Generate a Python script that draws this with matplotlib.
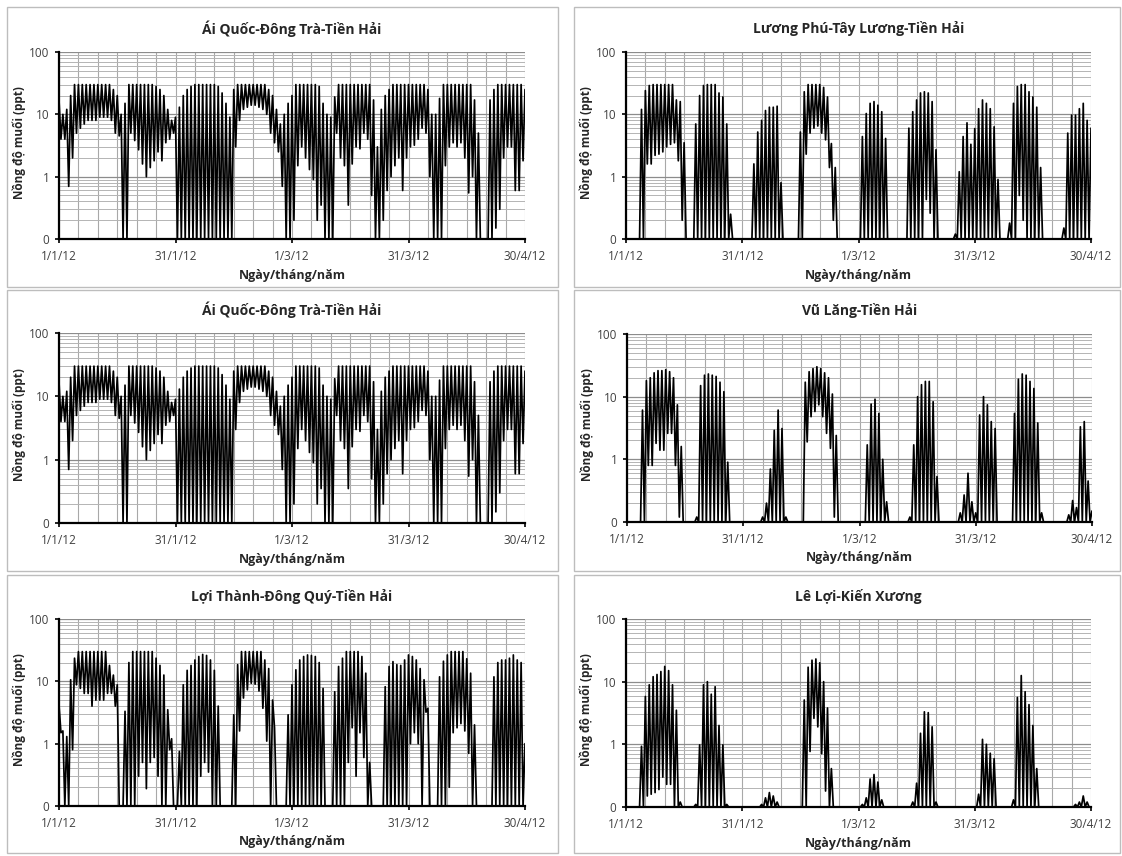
import matplotlib

matplotlib.use("Agg")
import matplotlib.pyplot as plt
import numpy as np
from matplotlib.patches import Rectangle
from matplotlib.ticker import FixedLocator, MultipleLocator, NullFormatter

plt.rcParams["font.family"] = ["Open Sans", "Liberation Sans", "DejaVu Sans"]

W, H = 1122, 856

# daily tide peaks / troughs of salinity (ppt), day 0 = 1/1/12 ... day 120 = 30/4/12
AQ_HIGH = [
    17, 10, 12, 20, 30, 30, 30, 30, 30, 30,
    30, 30, 30, 30, 25, 20, 10, 15, 30, 30,
    30, 30, 30, 30, 30, 28, 25, 20, 12, 8,
    9, 13, 20, 25, 28, 30, 30, 30, 30, 30,
    30, 28, 22, 15, 9, 25, 30, 30, 30, 30,
    30, 30, 30, 30, 25, 20, 12, 7, 10, 15,
    20, 30, 30, 30, 30, 30, 30, 28, 15, 10,
    9, 19, 30, 30, 30, 30, 30, 30, 30, 30,
    30, 17, 3, 12, 20, 25, 30, 30, 30, 30,
    30, 30, 30, 30, 30, 25, 10, 10, 18, 30,
    30, 30, 30, 30, 30, 30, 30, 17, 5, 0.1,
    0.1, 17, 25, 30, 30, 30, 30, 30, 30, 30,
    25,
]
AQ_LOW = [
    4, 4, 0.7, 2, 5, 6, 7, 8, 8, 8,
    9, 9, 9, 8, 5, 4.5, 0.1, 0.1, 5, 3.8,
    2.7, 1.6, 1.0, 1.4, 1.8, 2.5, 1.8, 3.5, 4, 5,
    0.1, 0.1, 0.1, 0.1, 0.1, 0.1, 0.1, 0.1, 0.1, 0.1,
    0.1, 0.1, 0.1, 0.1, 0.1, 3, 8, 12, 13, 14,
    14, 13, 12, 10, 5, 3.5, 2.5, 0.7, 0.1, 0.1,
    0.2, 1.5, 3, 2, 1.3, 0.9, 0.2, 0.35, 0.1, 0.1,
    0.1, 5, 2, 1.5, 0.35, 1.6, 3, 2.8, 5, 4,
    0.5, 0.1, 0.1, 0.2, 0.6, 1, 1.5, 2, 0.6, 2,
    3, 3.2, 4, 6, 5, 1, 0.1, 0.1, 0.1, 1.5,
    3, 3.5, 3, 3.5, 2, 0.55, 1, 0.1, 0.1, 0.1,
    0.1, 0.1, 0.15, 0.3, 2, 3, 3, 0.6, 0.6, 1.8,
    2,
]

LP_HIGH = [
    0.1, 0.1, 0.1, 0.1, 12, 24, 29, 30, 30, 30,
    30, 30, 30, 17, 16, 3.5, 0.1, 0.1, 7, 20,
    29, 30, 30, 30, 22, 19, 7, 0.25, 0.1, 0.1,
    0.1, 0.1, 0.1, 1.6, 5.2, 8, 11.5, 13, 13, 13.5,
    0.8, 0.1, 0.1, 0.1, 0.1, 5.2, 23, 30, 30, 30,
    30, 27, 19, 3.4, 1.4, 0.1, 0.1, 0.1, 0.1, 0.1,
    0.1, 4.4, 10.3, 15, 16, 14, 11, 4.1, 0.1, 0.1,
    0.1, 0.1, 0.1, 6, 11, 17, 22, 23, 22, 16,
    2.7, 0.1, 0.1, 0.1, 0.1, 0.12, 1.2, 4.4, 7.3, 3.3,
    5.9, 12.3, 17, 15, 12.3, 6.3, 0.9, 0.1, 0.1, 0.18,
    15, 28, 30, 30, 23, 19, 13, 1.4, 0.1, 0.1,
    0.1, 0.1, 0.1, 0.15, 5, 9.7, 9.7, 12.3, 15, 8,
    6,
]
LP_LOW = [
    0.1, 0.1, 0.1, 0.1, 0.1, 1.6, 1.6, 2.2, 2.3, 2.5,
    3, 3.3, 3.5, 1.8, 0.2, 0.1, 0.1, 0.1, 0.1, 0.1,
    0.1, 0.1, 0.1, 0.1, 0.1, 0.1, 0.1, 0.1, 0.1, 0.1,
    0.1, 0.1, 0.1, 0.1, 0.1, 0.1, 0.1, 0.1, 0.1, 0.1,
    0.1, 0.1, 0.1, 0.1, 0.1, 0.1, 2.3, 5, 6, 6.5,
    5, 3.9, 1.4, 0.2, 0.1, 0.1, 0.1, 0.1, 0.1, 0.1,
    0.1, 0.1, 0.1, 0.1, 0.1, 0.1, 0.1, 0.1, 0.1, 0.1,
    0.1, 0.1, 0.1, 0.1, 0.1, 0.1, 0.1, 0.43, 0.26, 0.1,
    0.1, 0.1, 0.1, 0.1, 0.1, 0.1, 0.1, 0.1, 0.1, 0.1,
    0.1, 0.1, 0.1, 0.1, 0.1, 0.1, 0.1, 0.1, 0.1, 0.1,
    0.1, 0.5, 0.2, 0.1, 0.1, 0.1, 0.1, 0.1, 0.1, 0.1,
    0.1, 0.1, 0.1, 0.1, 0.1, 0.1, 0.1, 0.1, 0.1, 0.1,
    0.1,
]

VL_HIGH = [
    0.1, 0.1, 0.1, 0.1, 6.1, 18, 20, 24, 26, 26,
    27, 25, 20, 7.4, 1.6, 0.1, 0.1, 0.1, 0.12, 15,
    22, 23, 22, 21, 17, 12, 0.9, 0.1, 0.1, 0.1,
    0.1, 0.1, 0.1, 0.1, 0.1, 0.12, 0.2, 0.7, 2.9, 6.1,
    3.1, 0.12, 0.1, 0.1, 0.1, 0.1, 17, 25, 28, 30,
    28, 24, 20, 11, 2.4, 0.1, 0.1, 0.1, 0.1, 0.1,
    0.1, 0.1, 1.7, 7.6, 9.1, 5.4, 1.0, 0.21, 0.1, 0.1,
    0.1, 0.1, 0.1, 0.12, 1.7, 10, 15.5, 17.5, 17.5, 8.3,
    0.53, 0.1, 0.1, 0.1, 0.1, 0.1, 0.14, 0.27, 0.6, 0.21,
    0.14, 5.1, 10, 7.4, 4.0, 3.1, 0.1, 0.1, 0.1, 0.1,
    5.4, 19, 23, 22, 17.5, 13.5, 3.8, 0.14, 0.1, 0.1,
    0.1, 0.1, 0.1, 0.1, 0.13, 0.22, 0.17, 3.3, 4.0, 0.45,
    0.15,
]
VL_LOW = [
    0.1, 0.1, 0.1, 0.1, 0.1, 0.8, 0.8, 1.8, 1.4, 1.4,
    2.6, 2.6, 0.8, 0.12, 0.1, 0.1, 0.1, 0.1, 0.1, 0.1,
    0.1, 0.1, 0.1, 0.1, 0.1, 0.1, 0.1, 0.1, 0.1, 0.1,
    0.1, 0.1, 0.1, 0.1, 0.1, 0.1, 0.1, 0.1, 0.1, 0.1,
    0.1, 0.1, 0.1, 0.1, 0.1, 0.1, 1.9, 4.8, 5.8, 7.4,
    4.8, 2.6, 1.5, 0.12, 0.1, 0.1, 0.1, 0.1, 0.1, 0.1,
    0.1, 0.1, 0.1, 0.1, 0.1, 0.1, 0.1, 0.1, 0.1, 0.1,
    0.1, 0.1, 0.1, 0.1, 0.1, 0.1, 0.1, 0.1, 0.1, 0.1,
    0.1, 0.1, 0.1, 0.1, 0.1, 0.1, 0.1, 0.1, 0.1, 0.1,
    0.1, 0.1, 0.1, 0.1, 0.1, 0.1, 0.1, 0.1, 0.1, 0.1,
    0.1, 0.1, 0.1, 0.1, 0.1, 0.1, 0.1, 0.1, 0.1, 0.1,
    0.1, 0.1, 0.1, 0.1, 0.1, 0.1, 0.1, 0.1, 0.1, 0.1,
    0.1,
]

LT_HIGH = [
    4.2, 1.6, 1.3, 10.6, 23.5, 30, 30, 30, 30, 30,
    30, 30, 30, 18, 12.6, 8.8, 0.1, 3.3, 20, 30,
    30, 30, 30, 30, 30, 23.5, 18, 12.6, 3.5, 1.2,
    0.1, 0.75, 8.8, 15, 18, 22, 25, 27, 26, 22,
    15, 4, 0.1, 0.1, 0.1, 2.9, 18.5, 30, 30, 30,
    30, 30, 30, 22, 16, 5, 0.1, 0.1, 0.1, 2.9,
    8.8, 15.3, 22, 25, 26.5, 26, 25, 20, 7.7, 0.1,
    0.1, 6.8, 17.3, 23.5, 30, 30, 30, 30, 25, 13.5,
    0.5, 0.1, 0.1, 0.1, 8.2, 17.3, 20.7, 18.5, 18, 22,
    26.5, 25, 22, 16, 10.6, 3.7, 0.1, 0.1, 11.8, 21,
    26.5, 30, 30, 30, 30, 23, 13.5, 2, 0.1, 0.1,
    0.1, 0.1, 11.8, 20, 22, 22, 23.5, 26.5, 22, 20,
    1.0,
]
LT_LOW = [
    1.5, 0.1, 0.1, 0.8, 8.8, 7.7, 6.4, 6.4, 4, 5,
    5, 5, 6.4, 6.4, 4, 0.1, 0.1, 0.1, 0.1, 0.1,
    0.3, 0.5, 0.19, 0.5, 0.6, 0.3, 0.1, 0.1, 0.8, 0.1,
    0.1, 0.1, 0.1, 0.1, 0.1, 0.1, 0.3, 0.5, 0.35, 0.1,
    0.1, 0.1, 0.1, 0.1, 0.1, 0.1, 1.6, 5.4, 7.3, 9.3,
    9, 7, 3.7, 1.1, 0.1, 1.8, 0.1, 0.1, 0.1, 0.1,
    0.1, 0.1, 0.1, 0.1, 0.1, 0.1, 0.1, 0.1, 0.1, 0.1,
    0.1, 0.1, 0.1, 0.1, 0.5, 1.8, 0.3, 1.5, 0.6, 0.1,
    0.1, 0.1, 0.1, 0.1, 0.1, 0.1, 0.1, 0.1, 0.1, 0.1,
    1.0, 1.5, 1.0, 0.1, 3.2, 0.1, 0.1, 0.1, 0.1, 0.1,
    0.2, 1.5, 1.8, 2.1, 1.6, 0.7, 0.1, 0.1, 0.1, 0.1,
    0.1, 0.1, 0.1, 0.1, 0.1, 0.1, 0.1, 0.1, 0.1, 0.1,
    0.1,
]

LL_HIGH = [
    0.1, 0.1, 0.1, 0.1, 0.93, 5.8, 8.9, 12, 13, 14.5,
    17.5, 15, 8.9, 3.5, 0.12, 0.1, 0.1, 0.1, 0.11, 0.98,
    8.9, 10, 6.3, 8.3, 2, 0.98, 0.11, 0.1, 0.1, 0.1,
    0.1, 0.1, 0.1, 0.1, 0.1, 0.11, 0.14, 0.17, 0.15, 0.12,
    0.1, 0.1, 0.1, 0.1, 0.1, 0.1, 5.1, 17, 22, 23,
    20, 10, 3.8, 0.41, 0.1, 0.1, 0.1, 0.1, 0.1, 0.1,
    0.1, 0.11, 0.14, 0.28, 0.33, 0.25, 0.13, 0.1, 0.1, 0.1,
    0.1, 0.1, 0.1, 0.1, 0.12, 0.24, 1.5, 3.3, 3.2, 1.9,
    0.12, 0.1, 0.1, 0.1, 0.1, 0.1, 0.1, 0.1, 0.1, 0.1,
    0.1, 0.16, 1.2, 1.0, 0.72, 0.59, 0.1, 0.1, 0.1, 0.1,
    0.13, 5.6, 12.5, 6.9, 4.3, 2.0, 0.41, 0.1, 0.1, 0.1,
    0.1, 0.1, 0.1, 0.1, 0.1, 0.1, 0.11, 0.12, 0.15, 0.12,
    0.1,
]
LL_LOW = [
    0.1, 0.1, 0.1, 0.1, 0.1, 0.15, 0.16, 0.17, 0.19, 0.3,
    0.23, 0.23, 0.1, 0.1, 0.1, 0.1, 0.1, 0.1, 0.1, 0.1,
    0.1, 0.1, 0.1, 0.1, 0.1, 0.1, 0.1, 0.1, 0.1, 0.1,
    0.1, 0.1, 0.1, 0.1, 0.1, 0.1, 0.1, 0.1, 0.1, 0.1,
    0.1, 0.1, 0.1, 0.1, 0.1, 0.1, 0.1, 0.77, 2.6, 1.9,
    0.71, 0.18, 0.1, 0.1, 0.1, 0.1, 0.1, 0.1, 0.1, 0.1,
    0.1, 0.1, 0.1, 0.1, 0.1, 0.1, 0.1, 0.1, 0.1, 0.1,
    0.1, 0.1, 0.1, 0.1, 0.1, 0.1, 0.1, 0.1, 0.1, 0.1,
    0.1, 0.1, 0.1, 0.1, 0.1, 0.1, 0.1, 0.1, 0.1, 0.1,
    0.1, 0.1, 0.1, 0.1, 0.1, 0.1, 0.1, 0.1, 0.1, 0.1,
    0.1, 0.1, 0.1, 0.1, 0.1, 0.1, 0.1, 0.1, 0.1, 0.1,
    0.1, 0.1, 0.1, 0.1, 0.1, 0.1, 0.1, 0.1, 0.1, 0.1,
    0.1,
]

TITLES = [
    "Ái Quốc-Đông Trà-Tiền Hải",
    "Lương Phú-Tây Lương-Tiền Hải",
    "Ái Quốc-Đông Trà-Tiền Hải",
    "Vũ Lăng-Tiền Hải",
    "Lợi Thành-Đông Quý-Tiền Hải",
    "Lê Lợi-Kiến Xương",
]
SERIES = [
    (AQ_HIGH, AQ_LOW),
    (LP_HIGH, LP_LOW),
    (AQ_HIGH, AQ_LOW),
    (VL_HIGH, VL_LOW),
    (LT_HIGH, LT_LOW),
    (LL_HIGH, LL_LOW),
]
X_TICKS = [0, 30, 60, 90, 120]
X_LABELS = ["1/1/12", "31/1/12", "1/3/12", "31/3/12", "30/4/12"]
Y_TICKS = [0.1, 1, 10, 100]
Y_LABELS = ["0", "1", "10", "100"]

# pixel boxes: plot area (x0, y0, x1, y1) and chart frame, y from top
PLOT_BOXES = [
    (59, 52, 525, 239), (626, 52, 1091, 239),
    (59, 333, 525, 523), (627, 334, 1092, 522),
    (59, 619, 525, 806), (626, 619, 1091, 807),
]
FRAMES = [
    (7, 7, 558, 287), (574, 7, 1120, 287),
    (7, 290, 558, 571), (574, 290, 1120, 571),
    (7, 575, 558, 853), (574, 575, 1120, 853),
]


def fx(px):
    return px / W


def fy(py):
    return 1 - py / H


def draw_panel(fig, title, highs, lows, box, frame):
    x0, y0, x1, y1 = box
    ax = fig.add_axes([fx(x0), fy(y1), (x1 - x0) / W, (y1 - y0) / H])

    days = np.arange(len(highs), dtype=float)
    t = np.empty(2 * len(days))
    t[0::2] = days
    t[1::2] = days + 0.5
    s = np.empty(2 * len(days))
    s[0::2] = highs
    s[1::2] = lows
    ax.plot(t, s, color="black", lw=1.25, zorder=3)

    ax.set_yscale("log")
    ax.set_ylim(0.1, 100)
    ax.set_xlim(0, 120)

    ax.yaxis.set_major_locator(FixedLocator(Y_TICKS))
    ax.set_yticklabels(Y_LABELS)
    minors = [m * 10.0 ** e for e in (-1, 0, 1) for m in range(2, 10)]
    ax.yaxis.set_minor_locator(FixedLocator(minors))
    ax.yaxis.set_minor_formatter(NullFormatter())
    ax.xaxis.set_major_locator(FixedLocator(X_TICKS))
    ax.set_xticklabels(X_LABELS)
    ax.xaxis.set_minor_locator(MultipleLocator(5))

    ax.grid(which="major", axis="y", color="#8c8c8c", lw=0.9)
    ax.grid(which="minor", axis="y", color="#b4b4b4", lw=0.7)
    ax.grid(which="both", axis="x", color="#a8a8a8", lw=0.8)
    ax.set_axisbelow(True)

    for side in ("top", "right"):
        ax.spines[side].set_visible(False)
    for side in ("left", "bottom"):
        ax.spines[side].set_color("black")
        ax.spines[side].set_linewidth(1.6)
        ax.spines[side].set_zorder(4)

    ax.tick_params(which="major", length=3, width=1.2, color="black",
                   labelsize=8.5, labelcolor="#404040")
    ax.tick_params(which="minor", length=0)
    ax.tick_params(axis="x", pad=5)
    ax.tick_params(axis="y", pad=4)

    cx = (x0 + x1) / 2
    fig.text(fx(cx), fy(y0 - 23), title, ha="center", va="center",
             fontsize=10, fontweight="bold", color="#262626")
    fig.text(fx(cx), fy(y1 + 36), "Ngày/tháng/năm", ha="center", va="center",
             fontsize=9, fontweight="bold", color="#262626")
    fig.text(fx(x0 - 40), fy((y0 + y1) / 2 - 3), "Nồng độ muối (ppt)",
             ha="center", va="center", rotation=90,
             fontsize=8.5, fontweight="bold", color="#262626")

    fa, fb, fc, fd = frame
    fig.add_artist(Rectangle((fx(fa), fy(fd)), (fc - fa) / W, (fd - fb) / H,
                             transform=fig.transFigure, fill=False,
                             ec="#bdbdbd", lw=1.0))


def main():
    fig = plt.figure(figsize=(W / 100, H / 100), dpi=100)
    fig.patch.set_facecolor("white")
    for title, (highs, lows), box, frame in zip(TITLES, SERIES, PLOT_BOXES, FRAMES):
        draw_panel(fig, title, highs, lows, box, frame)
    fig.savefig("out.png", dpi=100, facecolor="white")


if __name__ == "__main__":
    main()
